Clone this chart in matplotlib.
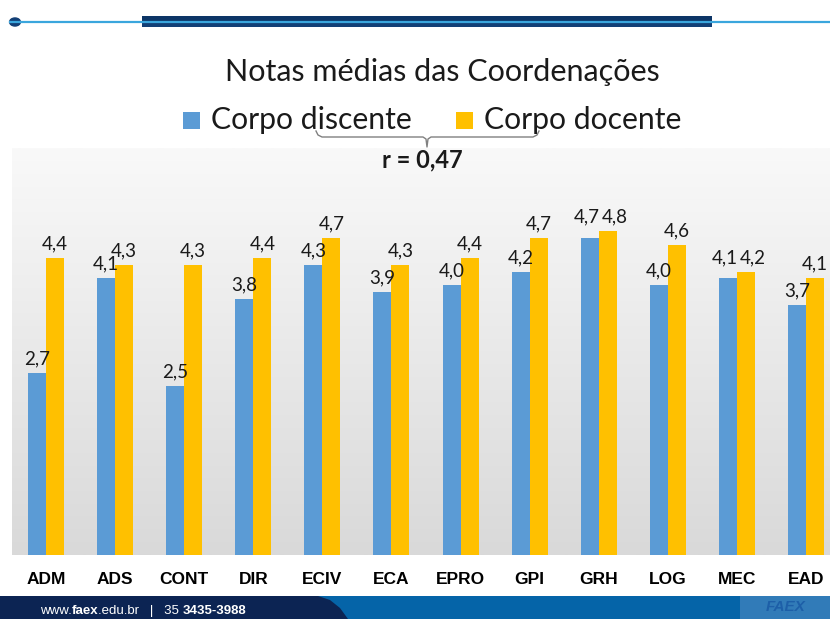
import matplotlib
matplotlib.use("Agg")
import matplotlib.pyplot as plt
import numpy as np
from matplotlib.patches import Rectangle, Circle, Polygon
from matplotlib.lines import Line2D
from matplotlib.text import Annotation

# dados
cursos = ["ADM", "ADS", "CONT", "DIR", "ECIV", "ECA", "EPRO", "GPI", "GRH", "LOG", "MEC", "EAD"]
discente = [2.7, 4.1, 2.5, 3.8, 4.3, 3.9, 4.0, 4.2, 4.7, 4.0, 4.1, 3.7]
docente = [4.4, 4.3, 4.3, 4.4, 4.7, 4.3, 4.4, 4.7, 4.8, 4.6, 4.2, 4.1]
titulo = "Notas médias das Coordenações"
serie1 = "Corpo discente"
serie2 = "Corpo docente"
correlacao = "r = 0,47"

W, H = 830, 619
azul = "#5B9BD5"
amarelo = "#FFC000"
fonte = ["Lato", "DejaVu Sans"]
fonte_eixo = ["Liberation Sans Narrow", "Liberation Sans", "DejaVu Sans"]
fonte_rod = ["Liberation Sans", "DejaVu Sans"]


def fx(x):
    return x / W


def fy(y):
    return 1 - y / H


fig = plt.figure(figsize=(8.3, 6.19), dpi=100)

# cabeçalho do slide
fig.add_artist(Line2D([fx(10), fx(830)], [fy(22), fy(22)], color="#3aa6dd", lw=1.6))
fig.add_artist(Rectangle((fx(142), fy(27)), fx(712) - fx(142), fy(16) - fy(27),
                         color="#123f76", lw=0))
fig.add_artist(Rectangle((fx(142), fy(22)), fx(712) - fx(142), fy(16) - fy(22),
                         color="#0d3566", lw=0))
fig.add_artist(Circle((fx(15), fy(22)), 0.0065, color="#123f76", transform=fig.transFigure))

# eixo do gráfico
ax = fig.add_axes([fx(11.5), fy(555), fx(840.5) - fx(11.5), fy(148) - fy(555)])
x = np.arange(len(cursos))
w = 0.26
topo = 6.03

# fundo em degradê (claro em cima, cinza embaixo)
grad = np.linspace(0, 1, 256).reshape(-1, 1)
cmap = matplotlib.colors.LinearSegmentedColormap.from_list("g", ["#f9f9f9", "#d9d9d9"])
ax.imshow(grad, aspect="auto", cmap=cmap, origin="upper",
          extent=(-0.5, len(cursos) - 0.5, 0, topo), zorder=0)
ax.set_xlim(-0.5, len(cursos) - 0.5)
ax.set_ylim(0, topo)

b1 = ax.bar(x - w / 2, discente, width=w, color=azul, zorder=2)
b2 = ax.bar(x + w / 2, docente, width=w, color=amarelo, zorder=2)

fmt = lambda v: f"{v:.1f}".replace(".", ",")
r1 = ax.bar_label(b1, labels=[fmt(v) for v in discente], padding=4, fontsize=13.5,
                  family=fonte, color="#1a1a1a")
r2 = ax.bar_label(b2, labels=[fmt(v) for v in docente], padding=4, fontsize=13.5,
                  family=fonte, color="#1a1a1a")

# rótulos afastados onde as barras têm quase a mesma altura (como no original)
for i in [cursos.index("GRH"), cursos.index("MEC")]:
    r1[i].xyann = (-2, 4 + (docente[i] - discente[i]) * 48.5)
    r2[i].xyann = (5, 4)

ax.set_xticks(x)
ax.set_xticklabels(cursos, fontsize=12.5, fontweight="bold", family=fonte_eixo)
ax.tick_params(axis="x", length=0, pad=12)
ax.set_yticks([])
for s in ax.spines.values():
    s.set_visible(False)

# título e legenda
fig.text(fx(442), fy(72), titulo, ha="center", va="center", fontsize=22, family=fonte,
         color="#1a1a1a")
fig.add_artist(Rectangle((fx(183), fy(129)), fx(17), fy(0) - fy(17), color=azul, lw=0))
fig.add_artist(Rectangle((fx(456), fy(129)), fx(17), fy(0) - fy(17), color=amarelo, lw=0))
fig.text(fx(211), fy(120), serie1, ha="left", va="center", fontsize=21.7, family=fonte,
         color="#1a1a1a")
fig.text(fx(484), fy(120), serie2, ha="left", va="center", fontsize=21.7, family=fonte,
         color="#1a1a1a")

# chave e correlação
bx = [316, 318, 322, 423, 426, 427, 428, 431, 533, 537, 539]
by = [131, 135, 137, 137, 139, 147, 139, 137, 137, 135, 131]
fig.add_artist(Line2D([fx(v) for v in bx], [fy(v) for v in by], color="#808080", lw=1))
fig.text(fx(422), fy(160), correlacao, ha="center", va="center", fontsize=17,
         fontweight="bold", family=fonte, color="#1a1a1a")

# rodapé
fig.add_artist(Rectangle((0, 0), 1, fy(596), color="#0564a8", lw=0))
fig.add_artist(Polygon([(0, 0), (0, fy(596)), (fx(318), fy(596)), (fx(330), fy(600)),
                        (fx(340), fy(608)), (fx(348), fy(619))],
                       closed=True, color="#0c2453", lw=0, transform=fig.transFigure))
fig.add_artist(Rectangle((fx(740), 0), fx(90), fy(596), color="#4f8cc4", lw=0, alpha=0.6))
fig.text(fx(786), fy(607), "FAEX", ha="center", va="center", fontsize=11, fontweight="bold",
         style="italic", color="#1d5fa8", family=fonte_rod)

t = fig.text(fx(40), fy(614), "www.", ha="left", va="baseline", fontsize=9.5,
             color="white", family=fonte_rod)
pecas = [("faex", "bold"), (".edu.br   |   35 ", "normal"), ("3435-3988", "bold")]
for s, peso in pecas:
    a = Annotation(s, xy=(1, 0), xycoords=t, ha="left", va="bottom", fontsize=9.5,
                   color="white", fontweight=peso, family=fonte_rod)
    fig.add_artist(a)
    t = a

fig.savefig("out.png", dpi=100)
